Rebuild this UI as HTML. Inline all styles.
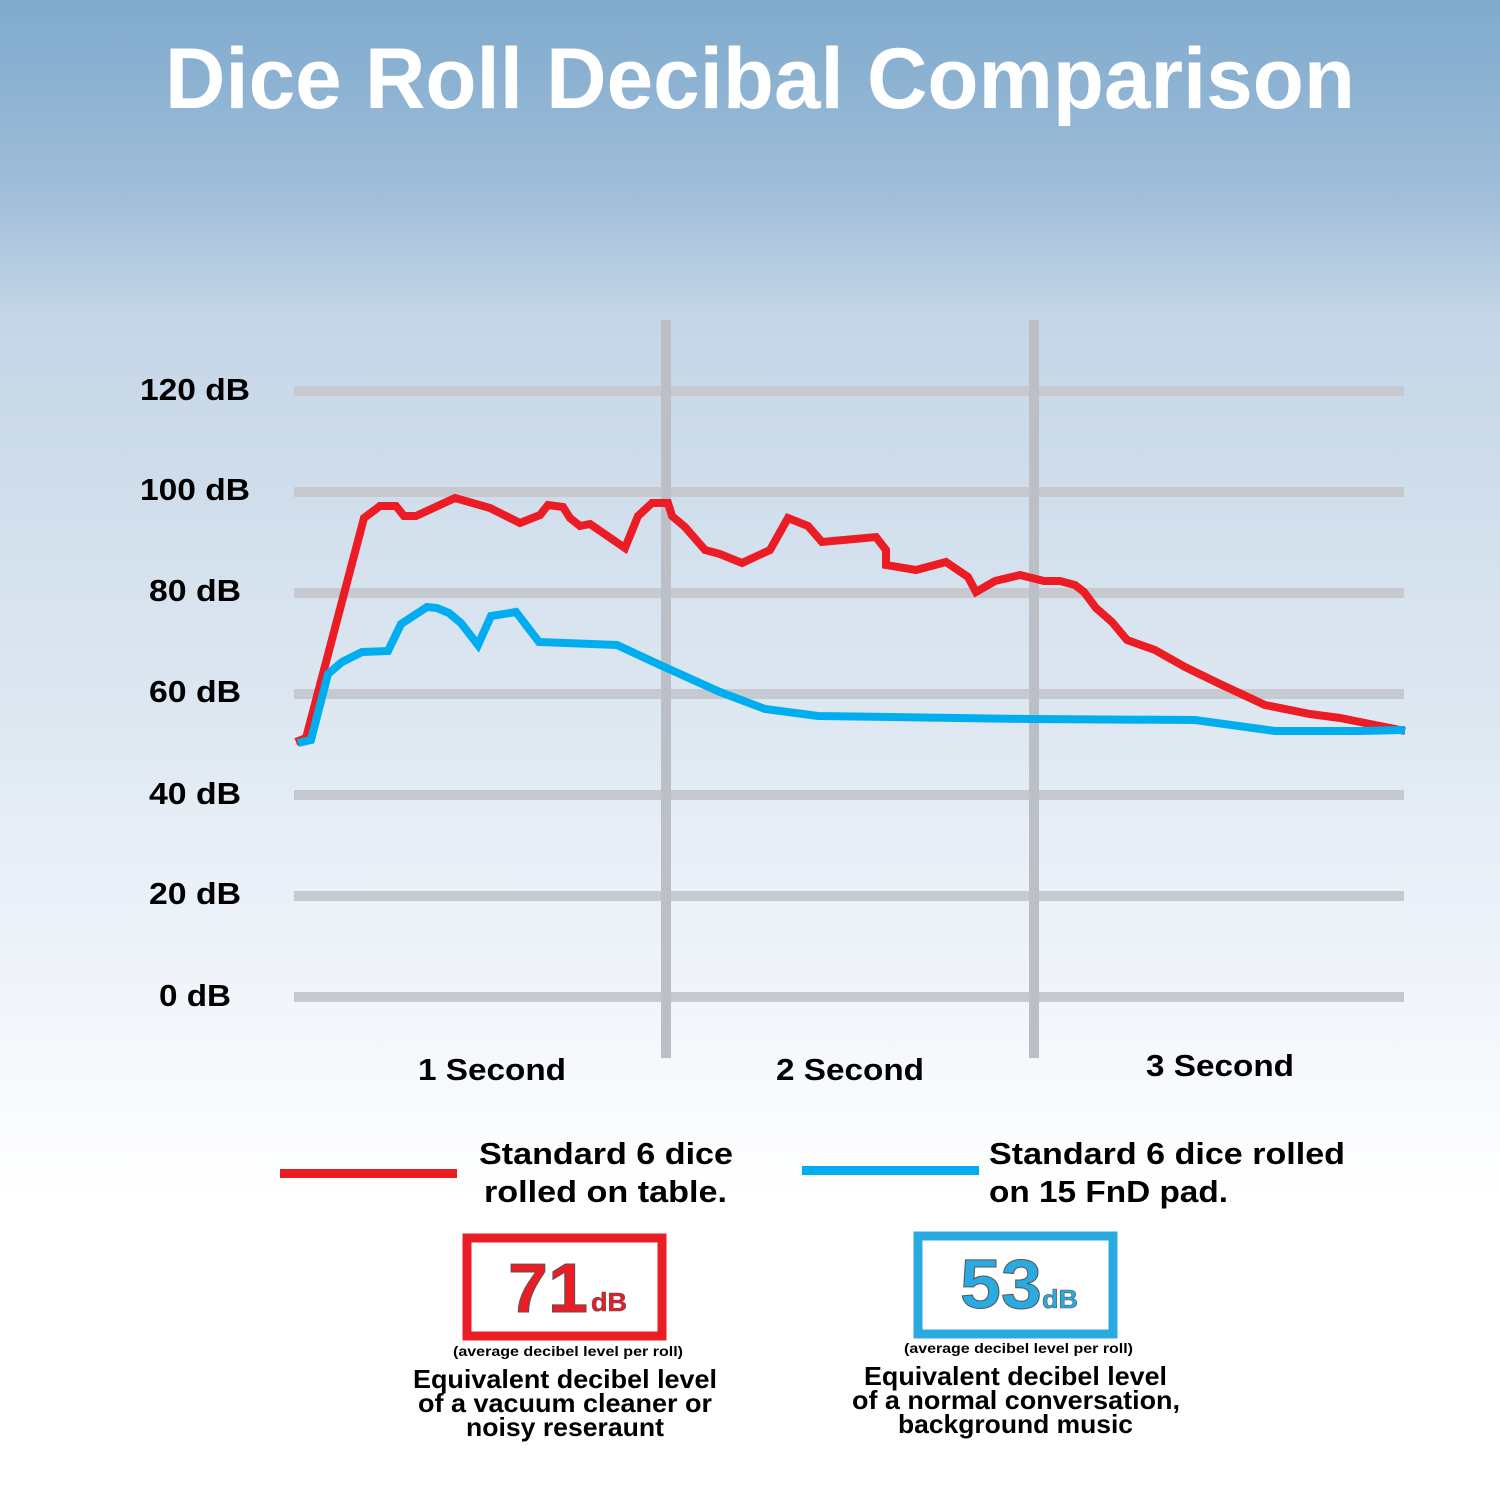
<!DOCTYPE html>
<html style="background:#fff;"><head><style>
html,body{margin:0;padding:0;overflow:hidden;}
body{width:1500px;height:1500px;background:linear-gradient(to bottom,#7faacd 0px,#9dbcd8 180px,#c5d6e7 320px,#dde7f1 700px,#eef3f9 950px,#ffffff 1200px,#ffffff 1500px);}
svg{display:block;}
svg text{font-family:"Liberation Sans",sans-serif;font-weight:bold;}
</style></head><body>
<svg width="1500" height="1500" viewBox="0 0 1500 1500" xmlns="http://www.w3.org/2000/svg">
<text x="760" y="108" font-size="86" fill="#fff" text-anchor="middle" textLength="1190" lengthAdjust="spacingAndGlyphs">Dice Roll Decibal Comparison</text>
<g fill="#c6c9cf">
<rect x="294" y="386" width="1110" height="10"/>
<rect x="294" y="487" width="1110" height="10"/>
<rect x="294" y="588" width="1110" height="10"/>
<rect x="294" y="689" width="1110" height="10"/>
<rect x="294" y="790" width="1110" height="10"/>
<rect x="294" y="891" width="1110" height="10"/>
<rect x="294" y="992" width="1110" height="10"/>
</g>
<g fill="#bcc0c6"><rect x="661" y="320" width="10" height="738"/><rect x="1029" y="320" width="10" height="738"/></g>
<g font-size="31" fill="#000">
<text x="140" y="400" textLength="110" lengthAdjust="spacingAndGlyphs">120 dB</text><text x="140" y="500" textLength="110" lengthAdjust="spacingAndGlyphs">100 dB</text><text x="149" y="601" textLength="92" lengthAdjust="spacingAndGlyphs">80 dB</text>
<text x="149" y="702" textLength="92" lengthAdjust="spacingAndGlyphs">60 dB</text><text x="149" y="804" textLength="92" lengthAdjust="spacingAndGlyphs">40 dB</text><text x="149" y="904" textLength="92" lengthAdjust="spacingAndGlyphs">20 dB</text><text x="159" y="1006" textLength="72" lengthAdjust="spacingAndGlyphs">0 dB</text>
</g>
<g font-size="31" fill="#000">
<text x="418" y="1080" textLength="148" lengthAdjust="spacingAndGlyphs">1 Second</text><text x="776" y="1080" textLength="148" lengthAdjust="spacingAndGlyphs">2 Second</text><text x="1146" y="1076" textLength="148" lengthAdjust="spacingAndGlyphs">3 Second</text>
</g>
<polyline fill="none" stroke="#ec1c24" stroke-width="8" points="296,742 306,738 364,518 380,506 396,506 404,516 416,516 455,498 490,508 520,523 540,515 548,505 563,507 570,518 580,526 590,524 625,548 638,516 652,503 668,503 672,516 685,527 705,550 720,554 742,563 770,550 788,518 808,526 822,542 876,537 886,550 886,565 916,570 946,562 968,577 976,592 995,581 1020,575 1044,581 1060,581 1075,585 1084,592 1096,608 1112,622 1127,640 1155,650 1185,667 1220,684 1265,705 1310,714 1340,718 1370,724 1405,731"/>
<polyline fill="none" stroke="#00aeef" stroke-width="8" points="298,743 311,740 328,674 342,662 362,652 388,651 401,624 427,607 437,608 449,613 461,623 478,645 491,616 516,612 539,642 617,645 660,665 720,692 765,709 818,716 1030,719 1195,720 1275,731 1360,731 1405,730"/>
<rect x="280" y="1169" width="177" height="9" fill="#ec1c24"/>
<rect x="802" y="1166" width="177" height="9" fill="#00aeef"/>
<g font-size="31" fill="#000">
<text x="479" y="1164" textLength="254" lengthAdjust="spacingAndGlyphs">Standard 6 dice</text><text x="484" y="1202" textLength="243" lengthAdjust="spacingAndGlyphs">rolled on table.</text>
<text x="989" y="1164" textLength="356" lengthAdjust="spacingAndGlyphs">Standard 6 dice rolled</text><text x="989" y="1202" textLength="239" lengthAdjust="spacingAndGlyphs">on 15 FnD pad.</text>
</g>
<rect x="467" y="1238" width="195" height="98" fill="#fff" stroke="#ec1c24" stroke-width="9"/>
<rect x="918" y="1236" width="195" height="98" fill="#fff" stroke="#29abe2" stroke-width="9"/>
<text x="508" y="1312" font-size="70" fill="#ec1c24" stroke="#555" stroke-width="1" textLength="80" lengthAdjust="spacingAndGlyphs">71</text>
<text x="591" y="1311" font-size="26" fill="#ec1c24" stroke="#555" stroke-width="0.6" textLength="36" lengthAdjust="spacingAndGlyphs">dB</text>
<text x="960" y="1308" font-size="70" fill="#29abe2" stroke="#555" stroke-width="1" textLength="82" lengthAdjust="spacingAndGlyphs">53</text>
<text x="1042" y="1308" font-size="26" fill="#29abe2" stroke="#555" stroke-width="0.6" textLength="36" lengthAdjust="spacingAndGlyphs">dB</text>
<g fill="#000">
<text x="453" y="1356" font-size="14" textLength="230" lengthAdjust="spacingAndGlyphs">(average decibel level per roll)</text>
<text x="413" y="1388" font-size="26" textLength="304" lengthAdjust="spacingAndGlyphs">Equivalent decibel level</text>
<text x="418" y="1412" font-size="26" textLength="294" lengthAdjust="spacingAndGlyphs">of a vacuum cleaner or</text>
<text x="466" y="1436" font-size="26" textLength="198" lengthAdjust="spacingAndGlyphs">noisy reseraunt</text>
<text x="904" y="1353" font-size="14" textLength="229" lengthAdjust="spacingAndGlyphs">(average decibel level per roll)</text>
<text x="864" y="1385" font-size="26" textLength="303" lengthAdjust="spacingAndGlyphs">Equivalent decibel level</text>
<text x="852" y="1409" font-size="26" textLength="328" lengthAdjust="spacingAndGlyphs">of a normal conversation,</text>
<text x="898" y="1433" font-size="26" textLength="235" lengthAdjust="spacingAndGlyphs">background music</text>
</g>
</svg>
</body></html>
